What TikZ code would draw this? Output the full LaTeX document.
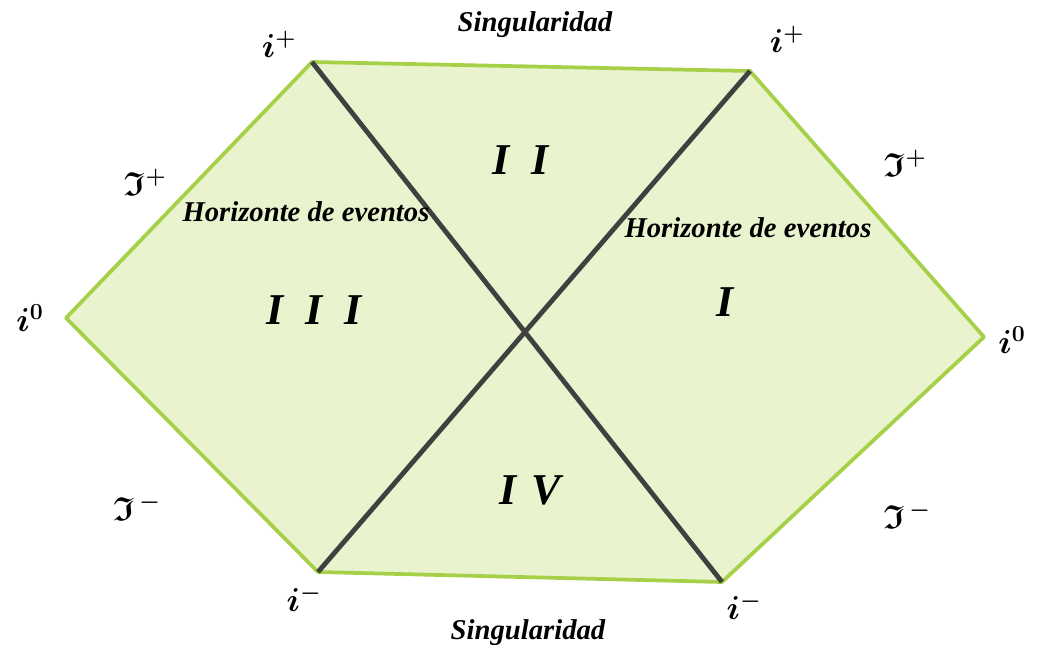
\documentclass[tikz,border=0pt]{standalone}
\usepackage{amsmath,amssymb}
\usepackage{fontspec}
\setmainfont{Liberation Serif}
\begin{document}
\begin{tikzpicture}[x=0.75pt,y=-0.75pt]
\definecolor{regfill}{RGB}{233,243,206}
\definecolor{regedge}{RGB}{165,208,72}
\definecolor{horline}{RGB}{64,64,64}
\tikzset{
  lbl/.style={font=\bfseries\itshape\fontsize{21.5}{24}\selectfont},
  roman/.style={font=\bfseries\itshape\fontsize{33}{36}\selectfont},
  pt/.style={font=\fontsize{25}{28}\selectfont\boldmath},
  edge/.style={draw=regedge,line width=2.8pt},
  horiz/.style={draw=horline,line width=3.6pt}
}
\useasboundingbox (0,0) rectangle (1043,648);
\coordinate (TL) at (312,62);
\coordinate (TR) at (750,71);
\coordinate (R) at (984,337);
\coordinate (BR) at (722,582);
\coordinate (BL) at (318,572);
\coordinate (L) at (66,318);
\fill[regfill] (TL) -- (TR) -- (R) -- (BR) -- (BL) -- (L) -- cycle;
\draw[edge,line join=round] (TL) -- (TR) -- (R) -- (BR) -- (BL) -- (L) -- cycle;
\draw[horiz] (TL) -- (BR);
\draw[horiz] (TR) -- (BL);
\node[lbl] (s1) at (535,25) {Singularidad};
\node[lbl] (s2) at (528,633) {Singularidad};
\node[lbl] (h1) at (306,212) {Horizonte de eventos};
\node[lbl] (h2) at (748,228) {Horizonte de eventos};
\node[roman] (r3) at (314,310) {I\,\,\,I\,\,\,I};
\node[roman] (r2) at (521,160) {I\,\,\,I};
\node[roman] (r1) at (725,302) {I};
\node[roman] (r4) at (530,490) {I\,\,V};
\node[pt] (ip1) at (279,44) {$i^+$};
\node[pt] (ip2) at (787,39) {$i^+$};
\node[pt] (io1) at (30,318) {$i^0$};
\node[pt] (io2) at (1012,340) {$i^0$};
\node[pt] (im1) at (304,598) {$i^-$};
\node[pt] (im2) at (744,606) {$i^-$};
\node[pt] (jp1) at (145,182) {$\mathfrak{I}^+$};
\node[pt] (jp2) at (905,163) {$\mathfrak{I}^+$};
\node[pt] (jm1) at (137,507) {$\mathfrak{I}^{\,-}$};
\node[pt] (jm2) at (907,515) {$\mathfrak{I}^{\,-}$};
\end{tikzpicture}
\end{document}
